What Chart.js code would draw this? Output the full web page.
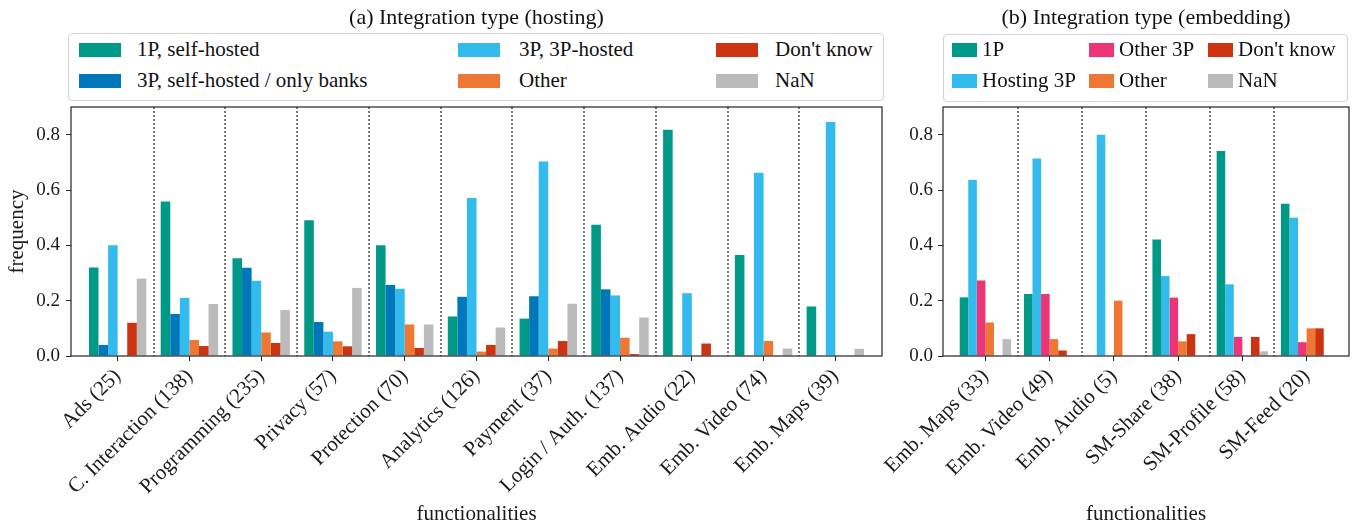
<!DOCTYPE html>
<html><head><meta charset="utf-8">
<script src="https://cdn.jsdelivr.net/npm/chart.js@4.4.1/dist/chart.umd.min.js"></script>
<style>
html,body{margin:0;padding:0;background:#fff;}
body{width:1355px;height:527px;position:relative;overflow:hidden;font-family:'Liberation Serif',serif;color:#111;}
.cw{position:absolute;top:0;height:527px;}
.title{position:absolute;font-size:22px;white-space:nowrap;transform:translate(-50%,-50%);line-height:1.2;}
.legend{position:absolute;border:1px solid #d4d4d4;border-radius:4px;background:#fff;box-sizing:border-box;}
.lt{position:absolute;font-size:21px;white-space:nowrap;line-height:1.2;transform:translateY(-50%);}
.sw{position:absolute;}
</style></head><body>
<div class="cw" style="left:0;width:890px;"><canvas id="ca" width="890" height="527"></canvas></div>
<div class="cw" style="left:850px;width:505px;"><canvas id="cb" width="505" height="527"></canvas></div>
<div class="title" style="left:476.5px;top:17px;">(a) Integration type (hosting)</div>
<div class="title" style="left:1146px;top:17px;">(b) Integration type (embedding)</div>
<div class="legend" id="lga" style="left:68px;top:33px;width:816px;height:68px;"></div>
<div class="legend" id="lgb" style="left:943px;top:34px;width:405px;height:68px;"></div>
<script>
// ---------- data ----------
const hostingCategories = ["Ads (25)","C. Interaction (138)","Programming (235)","Privacy (57)","Protection (70)","Analytics (126)","Payment (37)","Login / Auth. (137)","Emb. Audio (22)","Emb. Video (74)","Emb. Maps (39)"];
const hostingNames = ["1P, self-hosted","3P, self-hosted / only banks","3P, 3P-hosted","Other","Don't know","NaN"];
const hosting1P       = [0.320,0.558,0.353,0.491,0.400,0.143,0.135,0.474,0.818,0.365,0.179];
const hosting3PSelf   = [0.040,0.152,0.319,0.123,0.257,0.214,0.216,0.241,0.000,0.000,0.000];
const hosting3P3P     = [0.400,0.210,0.272,0.088,0.243,0.571,0.703,0.219,0.227,0.662,0.846];
const hostingOther    = [0.000,0.058,0.085,0.053,0.114,0.016,0.027,0.066,0.000,0.054,0.000];
const hostingDontKnow = [0.120,0.036,0.047,0.035,0.029,0.040,0.054,0.007,0.045,0.000,0.000];
const hostingNaN      = [0.280,0.188,0.166,0.246,0.114,0.103,0.189,0.139,0.000,0.027,0.026];

const embedCategories = ["Emb. Maps (33)","Emb. Video (49)","Emb. Audio (5)","SM-Share (38)","SM-Profile (58)","SM-Feed (20)"];
const embedNames = ["1P","Hosting 3P","Other 3P","Other","Don't know","NaN"];
const embed1P        = [0.212,0.224,0.000,0.421,0.741,0.550];
const embedHosting3P = [0.636,0.714,0.800,0.289,0.259,0.500];
const embedOther3P   = [0.273,0.224,0.000,0.211,0.069,0.050];
const embedOther     = [0.121,0.061,0.200,0.053,0.000,0.100];
const embedDontKnow  = [0.000,0.020,0.000,0.079,0.069,0.100];
const embedNaN       = [0.061,0.000,0.000,0.000,0.017,0.000];

const yTickValues = [0.0,0.2,0.4,0.6,0.8];
const hostingColors = ["#009988","#0077BB","#33BBEE","#EE7733","#CC3311","#BBBBBB"];
const embedColors   = ["#009988","#33BBEE","#EE3377","#EE7733","#CC3311","#BBBBBB"];

// ---------- chart ----------
Chart.defaults.font.family = "'Liberation Serif', serif";
Chart.defaults.color = '#1a1a1a';

const framePlugin = {
  id: 'frame',
  beforeDatasetsDraw(chart) {
    const {ctx, chartArea: a, scales: {x}} = chart;
    const n = chart.options.plugins.frame.count;
    ctx.save();
    ctx.strokeStyle = '#7a7a7a';
    ctx.lineWidth = 2;
    ctx.setLineDash([2, 2]);
    for (let i = 0; i < n - 1; i++) {
      const px = Math.round(x.getPixelForValue(i + 0.5));
      ctx.beginPath(); ctx.moveTo(px, a.top); ctx.lineTo(px, a.bottom); ctx.stroke();
    }
    ctx.restore();
  },
  afterDatasetsDraw(chart) {
    const {ctx, chartArea: a} = chart;
    ctx.save();
    ctx.strokeStyle = '#222';
    ctx.lineWidth = 1.2;
    ctx.strokeRect(a.left, a.top, a.right - a.left, a.bottom - a.top);
    ctx.restore();
  }
};

function makeChart(id, cats, series, names, colors, o) {
  const datasets = series.map((vals, k) => ({
    label: names[k],
    data: vals.map((v, i) => ({x: i, y: v})),
    backgroundColor: colors[k],
    borderWidth: 0,
    categoryPercentage: 0.8,
    barPercentage: 1.0
  }));
  return new Chart(document.getElementById(id), {
    type: 'bar',
    data: {datasets},
    plugins: [framePlugin],
    options: {
      responsive: false, animation: false, devicePixelRatio: 1,
      layout: {padding: {top: 107, left: 0, right: o.rightPad, bottom: 0}},
      plugins: {legend: {display: false}, title: {display: false}, tooltip: {enabled: false}, frame: {count: cats.length}},
      scales: {
        x: {
          type: 'linear', offset: false,
          min: -o.margin, max: cats.length - 1 + o.margin,
          afterBuildTicks: s => { s.ticks = cats.map((c, i) => ({value: i})); },
          afterFit: s => { s.height = 171; },
          ticks: {autoSkip: false, maxRotation: 45, minRotation: 45, padding: 3,
                  font: {size: 21}, color: '#1a1a1a',
                  callback: v => cats[Math.round(v)]},
          grid: {display: true, drawOnChartArea: false, drawTicks: true, tickLength: 5, tickColor: '#222', offset: false},
          border: {display: false},
          title: {display: true, text: 'functionalities', font: {size: 21}, color: '#1a1a1a', padding: {top: 0, bottom: 0}}
        },
        y: {
          min: 0, max: 0.9,
          afterBuildTicks: s => { s.ticks = yTickValues.map(v => ({value: v})); },
          afterFit: s => { s.width = o.yWidth; },
          ticks: {padding: o.yPad, font: {size: 19}, color: '#1a1a1a', callback: v => Number(v).toFixed(1)},
          grid: {display: true, drawOnChartArea: false, drawTicks: true, tickLength: 5, tickColor: '#222'},
          border: {display: false},
          title: {display: o.yTitle, text: 'frequency', font: {size: 21}, color: '#1a1a1a', padding: {top: 5, bottom: 0}}
        }
      }
    }
  });
}

makeChart('ca', hostingCategories,
  [hosting1P, hosting3PSelf, hosting3P3P, hostingOther, hostingDontKnow, hostingNaN],
  hostingNames, hostingColors, {margin: 0.65, rightPad: 8, yWidth: 71, yPad: 6, yTitle: true});
makeChart('cb', embedCategories,
  [embed1P, embedHosting3P, embedOther3P, embedOther, embedDontKnow, embedNaN],
  embedNames, embedColors, {margin: 0.66, rightPad: 6, yWidth: 93, yPad: 5, yTitle: false});

// ---------- legends (column-major, 3 columns x 2 rows) ----------
function makeLegend(id, names, colors, cfg) {
  const box = document.getElementById(id);
  names.forEach((name, k) => {
    const col = Math.floor(k / 2), row = k % 2;
    const sw = document.createElement('div');
    sw.className = 'sw';
    sw.style.cssText = `left:${cfg.swX[col]}px;top:${cfg.rowY[row] - 7}px;width:${cfg.swW}px;height:14px;background:${colors[k]};`;
    box.appendChild(sw);
    const t = document.createElement('div');
    t.className = 'lt';
    t.textContent = name;
    t.style.left = cfg.txX[col] + 'px';
    t.style.top = cfg.rowY[row] + 'px';
    box.appendChild(t);
  });
}
makeLegend('lga', hostingNames, hostingColors, {swX: [10, 389, 647], txX: [68, 450, 706], swW: 42, rowY: [15.5, 46.5]});
makeLegend('lgb', embedNames, embedColors, {swX: [8, 145, 264], txX: [38, 175, 294], swW: 25, rowY: [15, 46]});
</script>
</body></html>
